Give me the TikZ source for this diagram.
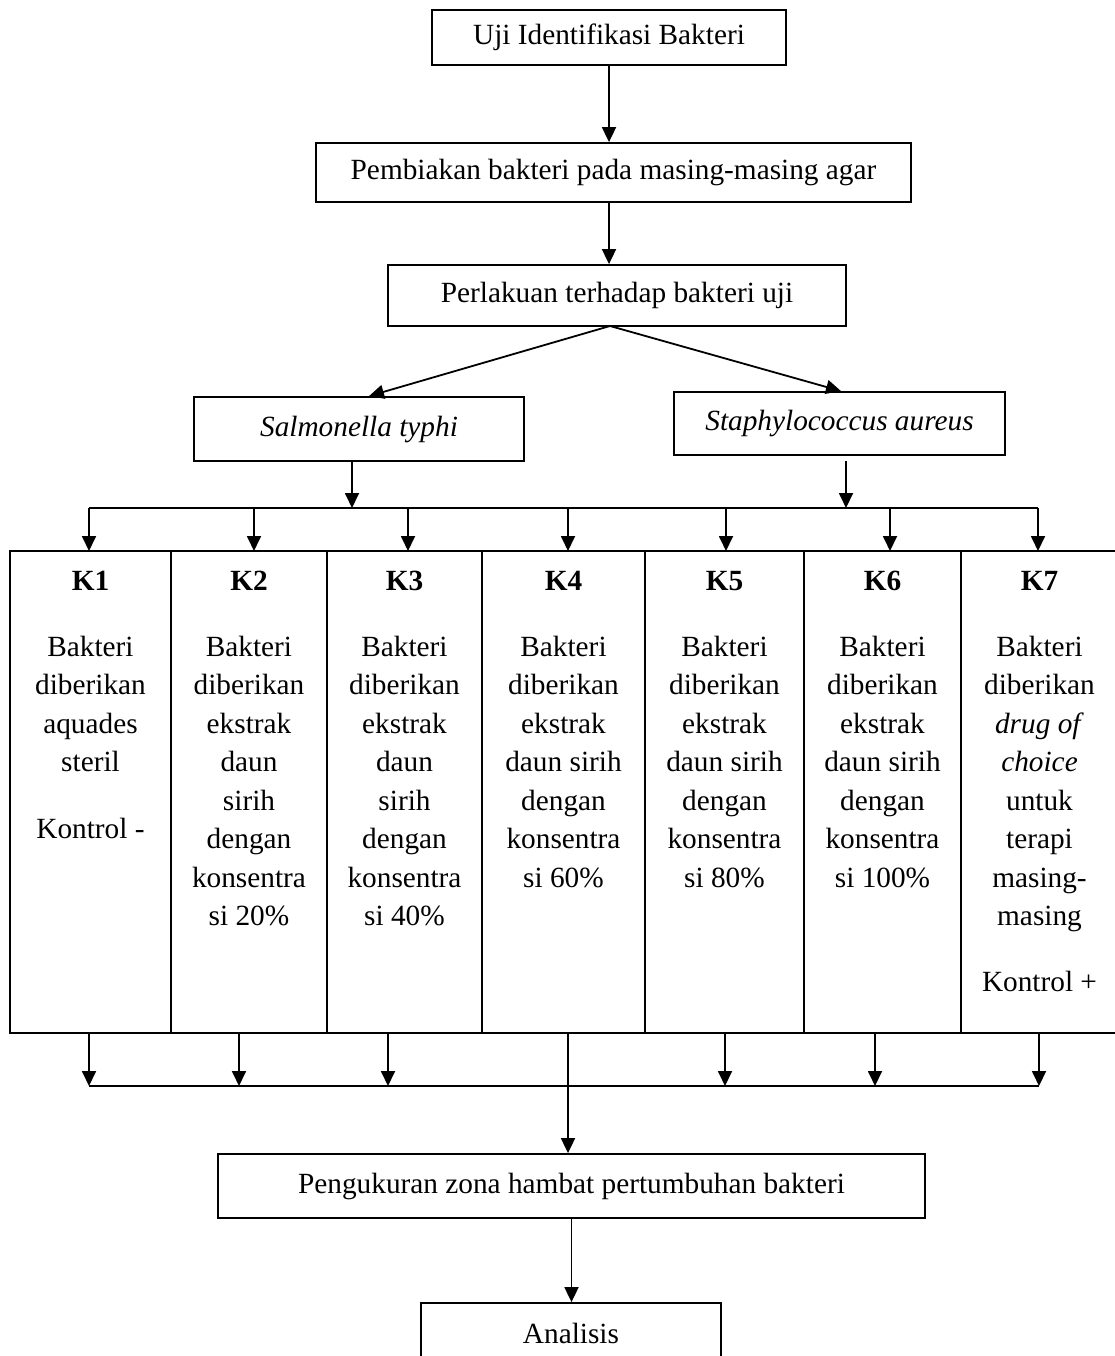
\documentclass[tikz,border=0pt]{standalone}
\usepackage{fontspec}
\setmainfont{Liberation Serif}
\usetikzlibrary{arrows.meta}
\begin{document}
\begin{tikzpicture}[x=1pt,y=-1pt,line width=1.8pt,
  txt/.style={font=\fontsize{29.3}{38.5}\selectfont},
  box/.style={draw,txt,inner sep=0pt},
  arr/.style={-{Triangle[length=15pt,width=14pt]}},
  col/.style={draw,inner sep=0pt,outer sep=0pt,anchor=north west,minimum height=482pt},
  coltext/.style={txt,anchor=north,align=center,inner sep=0pt}]
\useasboundingbox (0,0) rectangle (1114,1356);
% top boxes
\node[box,minimum width=354pt,minimum height=55pt] (b1) at (609,37.5) {Uji Identifikasi Bakteri};
\node[box,minimum width=595pt,minimum height=59pt] (b2) at (613.5,172.5) {Pembiakan bakteri pada masing-masing agar};
\node[box,minimum width=458pt,minimum height=61pt] (b3) at (617,295.5) {Perlakuan terhadap bakteri uji};
\node[box,minimum width=330pt,minimum height=64pt] (bS) at (359,429) {\textit{Salmonella typhi}};
\node[box,minimum width=331pt,minimum height=63pt] (bA) at (839.5,423.5) {\textit{Staphylococcus aureus}};
\coordinate (sp) at (610,326);
\draw[arr] (b1.south) -- (b1.south |- b2.north);
\draw[arr] (b2.south -| b1.south) -- (b3.north -| b1.south);
\draw[arr] (sp) -- ([xshift=10pt]bS.north);
\draw[arr] (sp) -- ([xshift=1.5pt]bA.north);
% upper distribution line
\coordinate (hl) at (89,508);
\coordinate (hr) at (1038,508);
\draw (hl) -- (hr);
\draw[arr] ([xshift=-7pt]bS.south) -- ([xshift=-7pt]bS.south |- hl);
\draw[arr] ([xshift=6.5pt,yshift=-5pt]bA.south) -- ([xshift=6.5pt]bA.south |- hl);
% columns
\node[col,minimum width=161pt] (c1) at (10,551) {};
\node[col,minimum width=156pt] (c2) at (171,551) {};
\node[col,minimum width=155pt] (c3) at (327,551) {};
\node[col,minimum width=163pt] (c4) at (482,551) {};
\node[col,minimum width=159pt] (c5) at (645,551) {};
\node[col,minimum width=157pt] (c6) at (804,551) {};
\node[col,minimum width=157pt] (c7) at (961,551) {};
\foreach \c/\dx in {c1/-1.5,c2/5,c3/3.5,c4/4.5,c5/1.5,c6/7.5,c7/-1.5}
  \draw[arr] ([xshift=\dx pt,yshift=43pt]\c.north) -- ([xshift=\dx pt]\c.north);
% column texts
\node[coltext] (t1) at ([yshift=-12pt]c1.north) {\strut\textbf{K1}\\[27pt]Bakteri\\diberikan\\aquades\\steril\\[28pt]Kontrol -};
\node[coltext] (t2) at ([yshift=-12pt]c2.north) {\strut\textbf{K2}\\[27pt]Bakteri\\diberikan\\ekstrak\\daun\\sirih\\dengan\\konsentra\\si 20\%};
\node[coltext] (t3) at ([yshift=-12pt]c3.north) {\strut\textbf{K3}\\[27pt]Bakteri\\diberikan\\ekstrak\\daun\\sirih\\dengan\\konsentra\\si 40\%};
\node[coltext] (t4) at ([yshift=-12pt]c4.north) {\strut\textbf{K4}\\[27pt]Bakteri\\diberikan\\ekstrak\\daun sirih\\dengan\\konsentra\\si 60\%};
\node[coltext] (t5) at ([yshift=-12pt]c5.north) {\strut\textbf{K5}\\[27pt]Bakteri\\diberikan\\ekstrak\\daun sirih\\dengan\\konsentra\\si 80\%};
\node[coltext] (t6) at ([yshift=-12pt]c6.north) {\strut\textbf{K6}\\[27pt]Bakteri\\diberikan\\ekstrak\\daun sirih\\dengan\\konsentra\\si 100\%};
\node[coltext] (t7) at ([yshift=-12pt]c7.north) {\strut\textbf{K7}\\[27pt]Bakteri\\diberikan\\\textit{drug of}\\\textit{choice}\\untuk\\terapi\\masing-\\masing\\[27pt]Kontrol +};
% lower collection line
\coordinate (bl) at (89,1086);
\coordinate (br) at (1039,1086);
\draw (bl) -- (br);
\foreach \c/\dx in {c1/-1.5,c2/-10,c3/-16.5,c5/0.5,c6/-7.5,c7/-0.5}
  \draw[arr] ([xshift=\dx pt]\c.south) -- ([xshift=\dx pt,yshift=-53pt]\c.south);
% bottom boxes
\node[box,minimum width=707pt,minimum height=64pt] (pg) at (571.5,1186) {Pengukuran zona hambat pertumbuhan bakteri};
\node[box,minimum width=300pt,minimum height=60pt] (an) at (571,1333) {Analisis};
\draw[arr] ([xshift=4.5pt]c4.south) -- ([xshift=-3.5pt]pg.north);
\draw[arr] (pg.south) -- (pg.south |- an.north);
\end{tikzpicture}
\end{document}
